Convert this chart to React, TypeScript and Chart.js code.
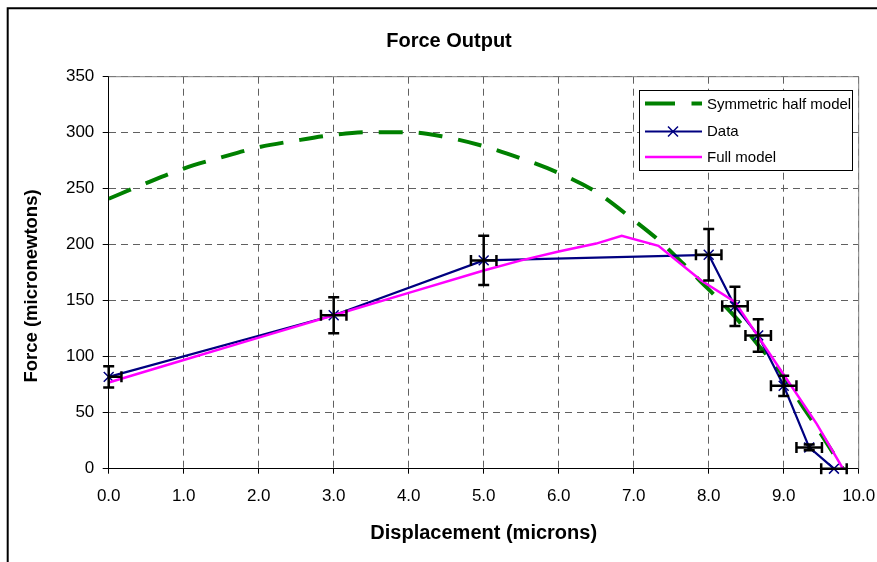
import React, { useEffect, useRef } from "react";
import { Chart, registerables } from "chart.js";

Chart.register(...registerables);

// ---- data ----
const dataX = [0, 3, 5, 8, 8.35, 8.66, 9, 9.34, 9.67];
const dataY = [82, 137, 186, 191, 145, 119, 74, 19, 0];
const dataYErr = [9.5, 16, 22, 23, 17.5, 14.5, 9, 2.5, 0];
const dataXErr = [0.17, 0.17, 0.17, 0.17, 0.17, 0.17, 0.17, 0.17, 0.17];

const halfX = [0, 0.5, 1, 1.5, 2, 2.5, 3, 3.5, 4, 4.5, 5, 5.5, 6, 6.5, 7, 7.35, 7.66, 7.88, 8.12, 8.4, 8.64, 8.95, 9.24, 9.44, 9.79];
const halfY = [241, 255, 268, 278, 287, 293, 298, 300.5, 300.5, 296, 288, 277, 264, 247, 222, 203, 183, 168, 152, 132, 112, 87, 57, 37, 0];

const fullX = [0, 1, 2, 3, 4, 5, 5.5, 6, 6.5, 6.84, 7.33, 7.9, 8.35, 8.84, 9.44, 9.79];
const fullY = [77, 97, 117, 137, 157, 177, 186, 194, 201, 208, 199, 168, 149, 100, 40, 0];

const seriesNames = ["Symmetric half model", "Data", "Full model"];
const titleText = "Force Output";
const xTitle = "Displacement (microns)";
const yTitle = "Force (micronewtons)";
const xMin = 0, xMax = 10, xStep = 1;
const yMin = 0, yMax = 350, yStep = 50;

const FONT = "'Liberation Sans', Arial, Helvetica, sans-serif";
const GREEN = "#008000";
const NAVY = "#000080";
const MAGENTA = "#FF00FF";

const pts = (xs: number[], ys: number[]) => xs.map((x, i) => ({ x, y: ys[i] }));

const framePlugin = {
  id: "frame",
  beforeDraw(chart: any) {
    const ctx = chart.ctx;
    ctx.save();
    ctx.fillStyle = "#fff";
    ctx.fillRect(0, 0, chart.width, chart.height);
    ctx.strokeStyle = "#000";
    ctx.lineWidth = 2;
    ctx.beginPath();
    ctx.moveTo(7.7, chart.height);
    ctx.lineTo(7.7, 8.3);
    ctx.lineTo(chart.width, 8.3);
    ctx.stroke();
    ctx.restore();
  },
  beforeDatasetsDraw(chart: any) {
    const { ctx, chartArea: a } = chart;
    ctx.save();
    ctx.strokeStyle = "#808080";
    ctx.lineWidth = 1;
    ctx.beginPath();
    ctx.moveTo(a.left, a.top);
    ctx.lineTo(a.right, a.top);
    ctx.lineTo(a.right, a.bottom);
    ctx.stroke();
    ctx.restore();
  },
};

const titlesPlugin = {
  id: "titles",
  afterDraw(chart: any) {
    const { ctx } = chart;
    ctx.save();
    ctx.fillStyle = "#000";
    ctx.textAlign = "center";
    ctx.textBaseline = "middle";
    ctx.font = `bold 20px ${FONT}`;
    ctx.fillText(titleText, 449, 41);
    ctx.translate(31.5, 286);
    ctx.rotate(-Math.PI / 2);
    ctx.font = `bold 18.5px ${FONT}`;
    ctx.fillText(yTitle, 0, 0);
    ctx.restore();
  },
};

const errorBarPlugin = {
  id: "errorBars",
  afterDatasetsDraw(chart: any) {
    const { ctx, chartArea: a } = chart;
    const xs = chart.scales.x;
    const ys = chart.scales.y;
    ctx.save();
    ctx.strokeStyle = "#000";
    ctx.lineWidth = 2.5;
    const cap = 5.5;
    for (let i = 0; i < dataX.length; i++) {
      const px = xs.getPixelForValue(dataX[i]);
      const py = ys.getPixelForValue(dataY[i]);
      const ye = dataYErr[i];
      if (ye > 0) {
        const t = ys.getPixelForValue(dataY[i] + ye);
        const b = ys.getPixelForValue(dataY[i] - ye);
        ctx.beginPath();
        ctx.moveTo(px, t); ctx.lineTo(px, b);
        ctx.moveTo(px - cap, t); ctx.lineTo(px + cap, t);
        ctx.moveTo(px - cap, b); ctx.lineTo(px + cap, b);
        ctx.stroke();
      }
      const xe = dataXErr[i];
      if (xe > 0) {
        ctx.save();
        ctx.beginPath();
        ctx.rect(a.left, 0, chart.width - a.left, chart.height);
        ctx.clip();
        const l = xs.getPixelForValue(dataX[i] - xe);
        const r = xs.getPixelForValue(dataX[i] + xe);
        ctx.beginPath();
        ctx.moveTo(l, py); ctx.lineTo(r, py);
        ctx.moveTo(l, py - cap); ctx.lineTo(l, py + cap);
        ctx.moveTo(r, py - cap); ctx.lineTo(r, py + cap);
        ctx.stroke();
        ctx.restore();
      }
    }
    ctx.restore();
  },
};

const legendPlugin = {
  id: "customLegend",
  afterDraw(chart: any) {
    const ctx = chart.ctx;
    const bx = 639.5, by = 90.5, bw = 213, bh = 80;
    ctx.save();
    ctx.fillStyle = "#fff";
    ctx.fillRect(bx, by, bw, bh);
    ctx.strokeStyle = "#000";
    ctx.lineWidth = 1;
    ctx.strokeRect(bx, by, bw, bh);

    const x1 = 645, x2 = 702;
    const rows = [103.5, 131.5, 157];
    ctx.strokeStyle = GREEN;
    ctx.lineWidth = 4;
    ctx.beginPath();
    ctx.moveTo(x1, rows[0]); ctx.lineTo(675, rows[0]);
    ctx.moveTo(691.5, rows[0]); ctx.lineTo(x2, rows[0]);
    ctx.stroke();
    ctx.strokeStyle = NAVY;
    ctx.lineWidth = 2;
    ctx.beginPath();
    ctx.moveTo(x1, rows[1]); ctx.lineTo(x2, rows[1]);
    ctx.stroke();
    ctx.lineWidth = 1.5;
    const mx = 673, m = 5;
    ctx.beginPath();
    ctx.moveTo(mx - m, rows[1] - m); ctx.lineTo(mx + m, rows[1] + m);
    ctx.moveTo(mx - m, rows[1] + m); ctx.lineTo(mx + m, rows[1] - m);
    ctx.stroke();
    ctx.strokeStyle = MAGENTA;
    ctx.lineWidth = 2.5;
    ctx.beginPath();
    ctx.moveTo(x1, rows[2]); ctx.lineTo(x2, rows[2]);
    ctx.stroke();

    ctx.fillStyle = "#000";
    ctx.font = `15px ${FONT}`;
    ctx.textBaseline = "middle";
    ctx.textAlign = "left";
    const ty = [105, 132, 157.5];
    seriesNames.forEach((n, i) => ctx.fillText(n, 707, ty[i]));
    ctx.restore();
  },
};

export default function App() {
  const ref = useRef<HTMLCanvasElement>(null);
  useEffect(() => {
    const canvas = ref.current!;
    const chart = new Chart(canvas, {
      type: "scatter",
      data: {
        datasets: [
          {
            label: seriesNames[0],
            data: pts(halfX, halfY),
            showLine: true,
            borderColor: GREEN,
            backgroundColor: GREEN,
            borderWidth: 4,
            borderDash: [24, 16],
            pointRadius: 0,
            cubicInterpolationMode: "monotone",
            order: 2,
          },
          {
            label: seriesNames[1],
            data: pts(dataX, dataY),
            showLine: true,
            borderColor: NAVY,
            backgroundColor: NAVY,
            borderWidth: 2.2,
            pointStyle: "crossRot",
            pointRadius: 7,
            pointBorderWidth: 1.5,
            pointBorderColor: NAVY,
            clip: 10,
            order: 1,
          },
          {
            label: seriesNames[2],
            data: pts(fullX, fullY),
            showLine: true,
            borderColor: MAGENTA,
            backgroundColor: MAGENTA,
            borderWidth: 2.5,
            pointRadius: 0,
            order: 0,
          },
        ],
      },
      options: {
        responsive: false,
        animation: false,
        devicePixelRatio: 1,
        layout: { padding: { left: 0, right: 18.3, top: 76.7, bottom: 0 } },
        plugins: {
          legend: { display: false },
          tooltip: { enabled: false },
          title: { display: false },
        },
        scales: {
          x: {
            type: "linear",
            min: xMin,
            max: xMax,
            afterFit: (s: any) => {
              s.height = 562 - 468.7;
              s.paddingLeft = 0;
              s.paddingRight = 0;
            },
            ticks: {
              stepSize: xStep,
              color: "#000",
              font: { family: FONT, size: 17 },
              padding: 12,
              maxRotation: 0,
              callback: (v: any) => Number(v).toFixed(1),
            },
            grid: { color: "#606060", lineWidth: 1, tickLength: 5, tickColor: "#000", tickBorderDash: [] },
            border: { display: true, color: "#000", width: 1, dash: [7, 5] },
            title: {
              display: true,
              text: xTitle,
              color: "#000",
              font: { family: FONT, size: 20, weight: "bold" },
              padding: { top: 0, bottom: 16.5 },
            },
          },
          y: {
            type: "linear",
            min: yMin,
            max: yMax,
            afterFit: (s: any) => {
              s.width = 108.7;
              s.paddingTop = 0;
              s.paddingBottom = 0;
            },
            ticks: {
              stepSize: yStep,
              color: "#000",
              font: { family: FONT, size: 17 },
              padding: 8.4,
            },
            grid: { color: "#606060", lineWidth: 1, tickLength: 6, tickColor: "#000", tickBorderDash: [] },
            border: { display: true, color: "#000", width: 1, dash: [7, 5] },
            title: { display: false },
          },
        },
      } as any,
      plugins: [framePlugin, errorBarPlugin, legendPlugin, titlesPlugin],
    });
    return () => chart.destroy();
  }, []);
  return (
    <div style={{ position: "absolute", left: 0, top: 0, width: 877, height: 562 }}>
      <canvas ref={ref} width={877} height={562} style={{ display: "block", width: 877, height: 562 }} />
    </div>
  );
}
